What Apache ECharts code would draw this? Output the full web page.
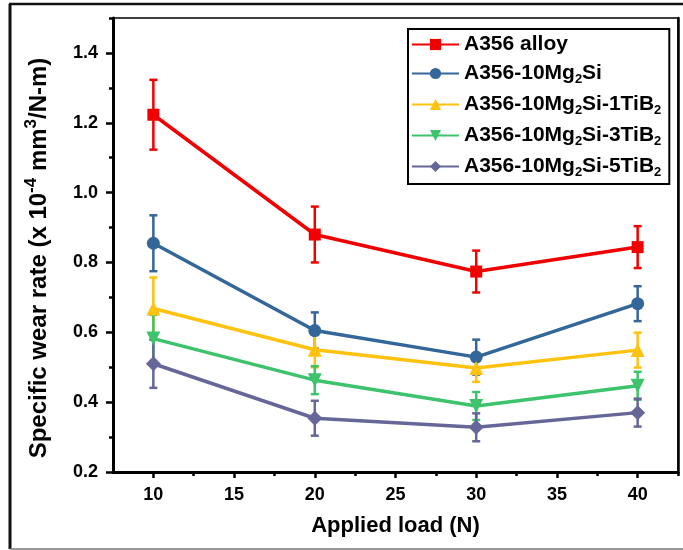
<!DOCTYPE html>
<html>
<head>
<meta charset="utf-8">
<script src="https://cdn.jsdelivr.net/npm/echarts@6/dist/echarts.min.js"></script>
<style>
  html, body { margin: 0; padding: 0; background: #fff; }
  #chart { width: 683px; height: 550px; }
</style>
</head>
<body>
<div id="chart"></div>
<script>
// applied load (N)
const loads = [10, 20, 30, 40];
const xLabelTicks = [10, 15, 20, 25, 30, 35, 40];
const xMinorTicks = [12.5, 17.5, 22.5, 27.5, 32.5, 37.5, 42.5];
const yLabelTicks = [0.2, 0.4, 0.6, 0.8, 1.0, 1.2, 1.4];
const yMinorTicks = [0.3, 0.5, 0.7, 0.9, 1.1, 1.3, 1.5];

// specific wear rate (x 10^-4 mm3/N-m) and error (+/-)
const alloy = [1.223, 0.880, 0.774, 0.844];
const alloyErr = [0.100, 0.080, 0.060, 0.060];
const mg2si = [0.855, 0.605, 0.529, 0.682];
const mg2siErr = [0.080, 0.052, 0.050, 0.050];
const tib1 = [0.668, 0.550, 0.498, 0.549];
const tib1Err = [0.089, 0.050, 0.040, 0.050];
const tib3 = [0.582, 0.463, 0.389, 0.447];
const tib3Err = [0.068, 0.040, 0.040, 0.040];
const tib5 = [0.510, 0.354, 0.328, 0.370];
const tib5Err = [0.069, 0.050, 0.040, 0.040];

const groups = [
  { name: 'A356 alloy', label: 'A356 alloy', vals: alloy, err: alloyErr, color: '#f00000', symbol: 'rect', size: 12 },
  { name: 'A356-10Mg2Si', label: 'A356-10Mg{sub|2}Si', vals: mg2si, err: mg2siErr, color: '#336699', symbol: 'circle', size: 13 },
  { name: 'A356-10Mg2Si-1TiB2', label: 'A356-10Mg{sub|2}Si-1TiB{sub|2}', vals: tib1, err: tib1Err, color: '#ffc20e', symbol: 'triangle', size: 14 },
  { name: 'A356-10Mg2Si-3TiB2', label: 'A356-10Mg{sub|2}Si-3TiB{sub|2}', vals: tib3, err: tib3Err, color: '#3cc36b', symbol: 'path://M0,0 L10,0 L5,9 Z', size: 14 },
  { name: 'A356-10Mg2Si-5TiB2', label: 'A356-10Mg{sub|2}Si-5TiB{sub|2}', vals: tib5, err: tib5Err, color: '#666699', symbol: 'diamond', size: 15 },
];

const font = 'Liberation Sans';
const chart = echarts.init(document.getElementById('chart'));

const series = [];
groups.forEach(g => {
  // error bars
  series.push({
    type: 'custom',
    name: g.name + ' err',
    xAxisIndex: 0,
    yAxisIndex: 0,
    data: loads.map((x, i) => [x, g.vals[i] - g.err[i], g.vals[i] + g.err[i]]),
    encode: { x: 0, y: [1, 2] },
    renderItem: (params, api) => {
      const lo = api.coord([api.value(0), api.value(1)]);
      const hi = api.coord([api.value(0), api.value(2)]);
      const cap = 4;
      const style = { stroke: g.color, lineWidth: 2.5 };
      return {
        type: 'group',
        children: [
          { type: 'line', shape: { x1: lo[0], y1: lo[1], x2: hi[0], y2: hi[1] }, style },
          { type: 'line', shape: { x1: lo[0] - cap, y1: lo[1], x2: lo[0] + cap, y2: lo[1] }, style },
          { type: 'line', shape: { x1: hi[0] - cap, y1: hi[1], x2: hi[0] + cap, y2: hi[1] }, style },
        ],
      };
    },
    silent: true,
  });
  series.push({
    type: 'line',
    name: g.name,
    xAxisIndex: 0,
    yAxisIndex: 0,
    data: loads.map((x, i) => [x, g.vals[i]]),
    symbol: g.symbol,
    symbolSize: g.size,
    showAllSymbol: true,
    lineStyle: { color: g.color, width: 3.5 },
    itemStyle: { color: g.color, borderWidth: 0 },
    emphasis: { disabled: true },
  });
});

const labelStyle = { color: '#000', fontFamily: font, fontWeight: 'bold', fontSize: 18 };

const option = {
  animation: false,
  backgroundColor: '#fff',
  grid: {
    left: 113, right: 5, top: 18, bottom: 78,
    show: true, borderColor: '#000', borderWidth: 1.5,
  },
  legend: {
    orient: 'vertical',
    left: 408,
    top: 29,
    padding: [5, 8, 5, 3],
    borderColor: '#000',
    borderWidth: 2,
    itemWidth: 47,
    itemHeight: 14,
    itemGap: 8,
    data: groups.map(g => g.name),
    formatter: name => groups.find(g => g.name === name).label,
    textStyle: {
      color: '#000', fontFamily: font, fontWeight: 'bold', fontSize: 21,
      rich: {
        sub: { color: '#000', fontFamily: font, fontWeight: 'bold', fontSize: 13, padding: [12, 0, 0, 0] },
      },
    },
  },
  xAxis: [
    {
      type: 'value', min: 7.5, max: 42.5, interval: 2.5,
      name: 'Applied load (N)', nameLocation: 'middle', nameGap: 43,
      nameTextStyle: { color: '#000', fontFamily: font, fontWeight: 'bold', fontSize: 22 },
      axisLine: { show: true, onZero: false, lineStyle: { color: '#000', width: 3 } },
      axisTick: { show: true, customValues: xLabelTicks, length: 6, lineStyle: { color: '#000', width: 2.5 } },
      axisLabel: Object.assign({ customValues: xLabelTicks, margin: 14 }, labelStyle),
      splitLine: { show: false },
    },
    {
      type: 'value', min: 7.5, max: 42.5, interval: 2.5, position: 'bottom',
      axisLine: { show: false, onZero: false },
      axisTick: { show: true, customValues: xMinorTicks, length: 4, lineStyle: { color: '#000', width: 2.5 } },
      axisLabel: { show: false },
      splitLine: { show: false },
    },
  ],
  yAxis: [
    {
      type: 'value', min: 0.2, max: 1.5, interval: 0.1,
      name: 'Specific wear rate (x 10{sup|-4} mm{sup|3}/N-m)',
      nameLocation: 'middle', nameGap: 58,
      nameTextStyle: {
        color: '#000', fontFamily: font, fontWeight: 'bold', fontSize: 24,
        padding: [0, 26, 0, 0],
        rich: {
          sup: { color: '#000', fontFamily: font, fontWeight: 'bold', fontSize: 17, padding: [0, 0, 15, 0] },
        },
      },
      axisLine: { show: true, onZero: false, lineStyle: { color: '#000', width: 3 } },
      axisTick: { show: true, customValues: yLabelTicks, length: 7, lineStyle: { color: '#000', width: 2.5 } },
      axisLabel: Object.assign({
        customValues: yLabelTicks, margin: 15,
        formatter: v => v.toFixed(1),
      }, labelStyle),
      splitLine: { show: false },
    },
    {
      type: 'value', min: 0.2, max: 1.5, interval: 0.1, position: 'left',
      axisLine: { show: false, onZero: false },
      axisTick: { show: true, customValues: yMinorTicks, length: 4, lineStyle: { color: '#000', width: 2.5 } },
      axisLabel: { show: false },
      splitLine: { show: false },
    },
    {
      type: 'value', min: 0.2, max: 1.5, interval: 0.1, position: 'right',
      axisLine: { show: true, onZero: false, lineStyle: { color: '#000', width: 2.5 } },
      axisTick: { show: false },
      axisLabel: { show: false },
      splitLine: { show: false },
    },
  ],
  graphic: [
    // outer picture frame
    { type: 'line', shape: { x1: 9, y1: 4, x2: 683, y2: 4 }, style: { stroke: '#111', lineWidth: 2.5 } },
    { type: 'line', shape: { x1: 10, y1: 4, x2: 10, y2: 549 }, style: { stroke: '#111', lineWidth: 3 } },
    { type: 'line', shape: { x1: 10, y1: 549, x2: 683, y2: 549 }, style: { stroke: '#777', lineWidth: 1.5 } },
  ],
  series,
};

chart.setOption(option);
</script>
</body>
</html>
